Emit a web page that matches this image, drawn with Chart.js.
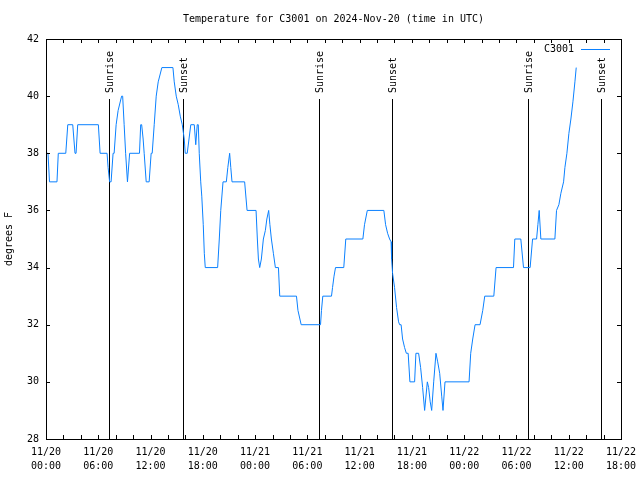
<!DOCTYPE html>
<html>
<head>
<meta charset="utf-8">
<script src="https://cdn.jsdelivr.net/npm/chart.js@4.4.1/dist/chart.umd.min.js"></script>
<style>
  html, body { margin: 0; padding: 0; background: #fff; }
</style>
</head>
<body>
<canvas id="chart" width="640" height="480"></canvas>
<script>
// hours since 2024-11-20 00:00 UTC
const hours = [
  0, 0.23, 0.40, 1.26, 1.41, 2.27, 2.50, 3.07, 3.33, 3.45,
  3.64, 6.01, 6.21, 7.01, 7.13, 7.30, 7.47, 7.70, 7.82, 8.05,
  8.28, 8.68, 8.80, 8.97, 9.14, 9.35, 9.60, 10.73, 10.87, 10.98,
  11.15, 11.27, 11.50, 11.84, 12.07, 12.19, 12.42, 12.65, 12.88, 13.30,
  14.57, 14.72, 14.95, 15.18, 15.41, 15.64, 15.72, 15.87, 15.98, 16.21,
  16.62, 17.02, 17.19, 17.36, 17.48, 17.59, 17.76, 17.88, 18.05, 18.17,
  18.28, 19.70, 19.89, 20.06, 20.32, 20.70, 20.87, 21.08, 21.21, 21.35,
  22.80, 23.08, 24.11, 24.26, 24.38, 24.53, 24.72, 24.95, 25.18, 25.35,
  25.56, 25.70, 25.87, 26.10, 26.33, 26.68, 26.83, 28.75, 28.92, 29.29,
  31.51, 31.62, 31.77, 32.77, 32.89, 33.06, 33.23, 34.18, 34.41, 36.37,
  36.56, 36.88, 38.78, 38.98, 39.21, 39.44, 39.61, 39.67, 39.78, 40.01,
  40.24, 40.47, 40.59, 40.76, 40.93, 41.16, 41.36, 41.57, 41.77, 42.31,
  42.46, 42.77, 43.00, 43.23, 43.46, 43.77, 43.92, 44.10, 44.27, 44.50,
  44.76, 44.96, 45.19, 45.42, 45.57, 45.80, 48.56, 48.75, 48.98, 49.25,
  49.82, 50.13, 50.36, 51.40, 51.66, 53.66, 53.81, 54.50, 54.81, 55.57,
  55.85, 56.31, 56.46, 56.61, 56.80, 58.41, 58.60, 58.87, 59.10, 59.41,
  59.56, 59.79, 60.02, 60.25, 60.48, 60.71, 60.86
];
const temps = [
  38, 38, 37, 37, 38, 38, 39, 39, 38, 38,
  39, 39, 38, 38, 37.5, 37, 37, 38, 38, 39,
  39.5, 40, 40, 39, 38, 37, 38, 38, 39, 39,
  38.5, 38, 37, 37, 38, 38, 39, 40, 40.5, 41,
  41, 40.5, 40, 39.7, 39.3, 39, 39, 38.5, 38, 38,
  39, 39, 38.3, 39, 39, 38, 37, 36.5, 35.5, 34.5,
  34, 34, 35, 36, 37, 37, 37.5, 38, 37.5, 37,
  37, 36, 36, 35, 34.3, 34, 34.3, 35, 35.3, 35.7,
  36, 35.5, 35, 34.5, 34, 34, 33, 33, 32.5, 32,
  32, 32.5, 33, 33, 33.3, 33.7, 34, 34, 35, 35,
  35.5, 36, 36, 35.5, 35.2, 35, 34.9, 34.3, 33.8, 33.3,
  32.6, 32.1, 32, 32, 31.5, 31.2, 31, 31, 30, 30,
  31, 31, 30.5, 29.8, 29, 30, 29.8, 29.3, 29, 30,
  31, 30.7, 30.3, 29.5, 29, 30, 30, 31, 31.5, 32,
  32, 32.5, 33, 33, 34, 34, 35, 35, 34, 34,
  35, 35, 35.5, 36, 35, 35, 36, 36.2, 36.6, 37,
  37.5, 38, 38.7, 39.2, 39.8, 40.5, 41
];

const tickDates = ['11/20', '11/20', '11/20', '11/20', '11/21', '11/21', '11/21', '11/21', '11/22', '11/22', '11/22', '11/22'];
const tickTimes = ['00:00', '06:00', '12:00', '18:00', '00:00', '06:00', '12:00', '18:00', '00:00', '06:00', '12:00', '18:00'];

const sunHours = [7.28, 15.67, 31.33, 39.67, 55.31, 63.70];
const sunLabels = ['Sunrise', 'Sunset', 'Sunrise', 'Sunset', 'Sunrise', 'Sunset'];
const sunTop = 39.9;

const FONT = '"DejaVu Sans Mono", "Liberation Mono", monospace';
const LINE_COLOR = '#0a80ff';

const gnuplotFrame = {
  id: 'gnuplotFrame',
  beforeDatasetsDraw(chart) {
    const { ctx, scales: { x, y } } = chart;
    ctx.save();
    ctx.strokeStyle = '#000';
    ctx.lineWidth = 1;
    ctx.fillStyle = '#000';
    ctx.font = '10px ' + FONT;
    sunHours.forEach((h, i) => {
      const px = Math.round(x.getPixelForValue(h)) + 0.5;
      ctx.beginPath();
      ctx.moveTo(px, y.getPixelForValue(28));
      ctx.lineTo(px, y.getPixelForValue(sunTop));
      ctx.stroke();
      ctx.save();
      ctx.translate(px + 1, y.getPixelForValue(sunTop) - 6);
      ctx.rotate(-Math.PI / 2);
      ctx.textAlign = 'left';
      ctx.textBaseline = 'middle';
      ctx.fillText(sunLabels[i], 0, 0);
      ctx.restore();
    });
    ctx.restore();
  },
  afterDraw(chart) {
    const { ctx, chartArea: a, scales: { x, y } } = chart;
    ctx.save();
    ctx.strokeStyle = '#000';
    ctx.lineWidth = 1;
    ctx.strokeRect(a.left + 0.5, a.top + 0.5, a.right - a.left, a.bottom - a.top);

    ctx.beginPath();
    for (let h = 0; h <= 66; h += 2) {
      const px = Math.round(x.getPixelForValue(h)) + 0.5;
      ctx.moveTo(px, a.bottom);
      ctx.lineTo(px, a.bottom - 4);
      ctx.moveTo(px, a.top);
      ctx.lineTo(px, a.top + 4);
    }
    for (let t = 28; t <= 42; t += 2) {
      const py = Math.round(y.getPixelForValue(t)) + 0.5;
      ctx.moveTo(a.left, py);
      ctx.lineTo(a.left + 4, py);
      ctx.moveTo(a.right, py);
      ctx.lineTo(a.right - 4, py);
    }
    ctx.stroke();

    // title
    ctx.fillStyle = '#000';
    ctx.font = '10px ' + FONT;
    ctx.textAlign = 'center';
    ctx.textBaseline = 'middle';
    ctx.fillText('Temperature for C3001 on 2024-Nov-20 (time in UTC)', (a.left + a.right) / 2, 19);

    // legend
    const ds = chart.data.datasets[0];
    ctx.textAlign = 'right';
    ctx.fillText(ds.label, 574, 49);
    ctx.strokeStyle = ds.borderColor;
    ctx.beginPath();
    ctx.moveTo(581, 49.5);
    ctx.lineTo(610, 49.5);
    ctx.stroke();
    ctx.restore();
  }
};

new Chart(document.getElementById('chart'), {
  type: 'line',
  data: {
    datasets: [{
      label: 'C3001',
      data: hours.map((h, i) => ({ x: h, y: temps[i] })),
      borderColor: LINE_COLOR,
      borderWidth: 1,
      pointRadius: 0,
      tension: 0,
      fill: false
    }]
  },
  options: {
    responsive: false,
    animation: false,
    layout: { padding: { top: 39, right: 19, left: 0, bottom: 0 } },
    plugins: {
      legend: { display: false },
      title: { display: false },
      tooltip: { enabled: false }
    },
    scales: {
      x: {
        type: 'linear',
        min: 0,
        max: 66,
        grid: { display: false, drawTicks: false },
        border: { display: false },
        afterFit: (scale) => {
          scale.height = 41;
          scale.paddingLeft = 0;
          scale.paddingRight = 0;
        },
        ticks: {
          stepSize: 6,
          autoSkip: false,
          maxRotation: 0,
          padding: 6,
          color: '#000',
          font: { family: FONT, size: 10, lineHeight: 1.4 },
          callback: (v) => {
            const i = Math.round(v / 6);
            return [tickDates[i], tickTimes[i]];
          }
        }
      },
      y: {
        min: 28,
        max: 42,
        grid: { display: false, drawTicks: false },
        border: { display: false },
        afterFit: (scale) => { scale.width = 46; },
        title: {
          display: true,
          text: 'degrees F',
          color: '#000',
          font: { family: FONT, size: 10 },
          padding: { top: 3, bottom: 0 }
        },
        ticks: {
          stepSize: 2,
          padding: 7,
          color: '#000',
          font: { family: FONT, size: 10 }
        }
      }
    }
  },
  plugins: [gnuplotFrame]
});
</script>
</body>
</html>
